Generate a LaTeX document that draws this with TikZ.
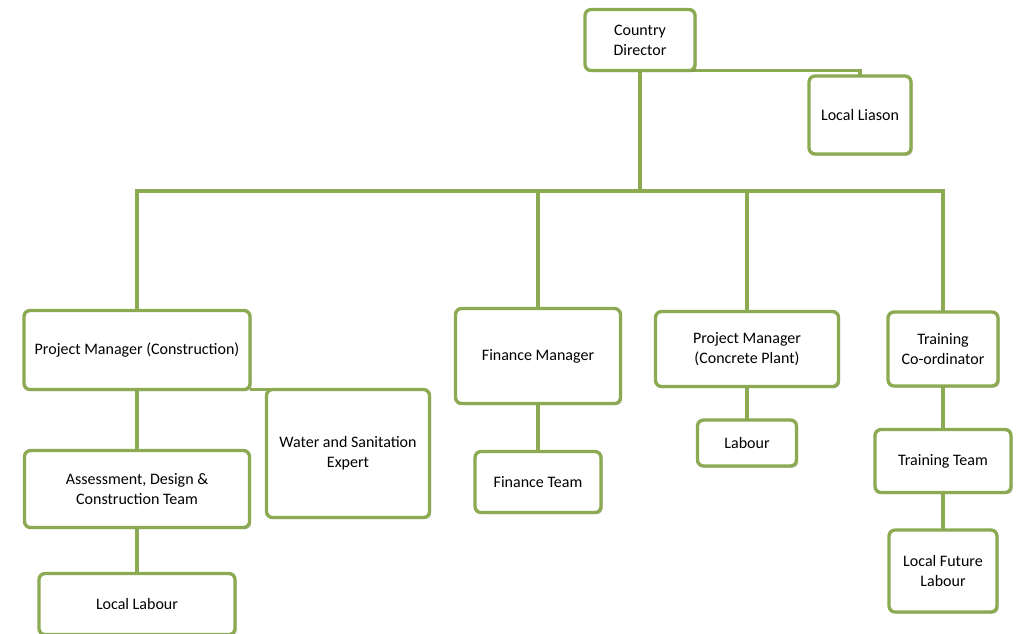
\documentclass[tikz,border=0pt]{standalone}
\usepackage{fontspec}
\setmainfont{Carlito}
\usetikzlibrary{shadows,backgrounds}
\definecolor{orgGreen}{RGB}{139,170,82}
\tikzset{
  unit/.style={draw=orgGreen, line width=2.5pt, rounded corners=4.5pt, fill=white,
    align=center, font=\fontsize{12}{15}\selectfont, inner sep=2pt, outer sep=0pt,
    drop shadow={shadow xshift=1.2pt, shadow yshift=-1.2pt, opacity=0.25, fill=black}},
  link/.style={draw=orgGreen, line width=2.6pt}
}
\begin{document}
\begin{tikzpicture}[x=0.75pt, y=-0.75pt]
\useasboundingbox (0,0) rectangle (1019,633);

\coordinate (hub) at (640,191);

%livello 0
\node[unit, minimum width=82.5pt, minimum height=45.75pt] (director) at (640,40) {Country\\Director};
\node[unit, minimum width=76.5pt, minimum height=58.5pt] (liason) at (860,115) {Local Liason};

%livello 1
\node[unit, minimum width=169.5pt, minimum height=59.25pt] (pmbuild) at (137,350) {Project Manager (Construction)};
\node[unit, minimum width=123.75pt, minimum height=71.25pt] (finance) at (538,356) {Finance Manager};
\node[unit, minimum width=137.25pt, minimum height=56.25pt] (pmplant) at (747,349) {Project Manager\\(Concrete Plant)};
\node[unit, minimum width=82.5pt, minimum height=55.5pt] (trainer) at (943,349) {Training\\Co-ordinator};

%livello 2
\node[unit, minimum width=122.25pt, minimum height=96pt] (water) at (348,453.5) {Water and Sanitation\\Expert};
\node[unit, minimum width=168.75pt, minimum height=57.75pt] (design) at (137,489) {Assessment, Design \&\\Construction Team};
\node[unit, minimum width=94.5pt, minimum height=45.75pt] (finteam) at (538,482) {Finance Team};
\node[unit, minimum width=74.25pt, minimum height=34.5pt] (labour) at (747,443) {Labour};
\node[unit, minimum width=102pt, minimum height=47.25pt] (trainteam) at (943,461) {Training Team};

%livello 3
\node[unit, minimum width=147pt, minimum height=45.75pt] (locallab) at (137,604) {Local Labour};
\node[unit, minimum width=81pt, minimum height=61.5pt] (futurelab) at (943,571) {Local Future\\Labour};

%collegamenti
\begin{pgfonlayer}{background}
\draw[link] (director.south) -- (hub);
\draw[link] (director.south) -| (liason.north);
\draw[link] (hub) -| (pmbuild.north);
\draw[link] (hub) -| (finance.north);
\draw[link] (hub) -| (pmplant.north);
\draw[link] (hub) -| (trainer.north);
\draw[link] (pmbuild.south) -- (design.north);
\draw[link] (design.south) -- (locallab.north);
\draw[link] (pmbuild.south east) -- ([xshift=6pt]water.north west);
\draw[link] (finance.south) -- (finteam.north);
\draw[link] (pmplant.south) -- (labour.north);
\draw[link] (trainer.south) -- (trainteam.north);
\draw[link] (trainteam.south) -- (futurelab.north);
\end{pgfonlayer}
\end{tikzpicture}
\end{document}
